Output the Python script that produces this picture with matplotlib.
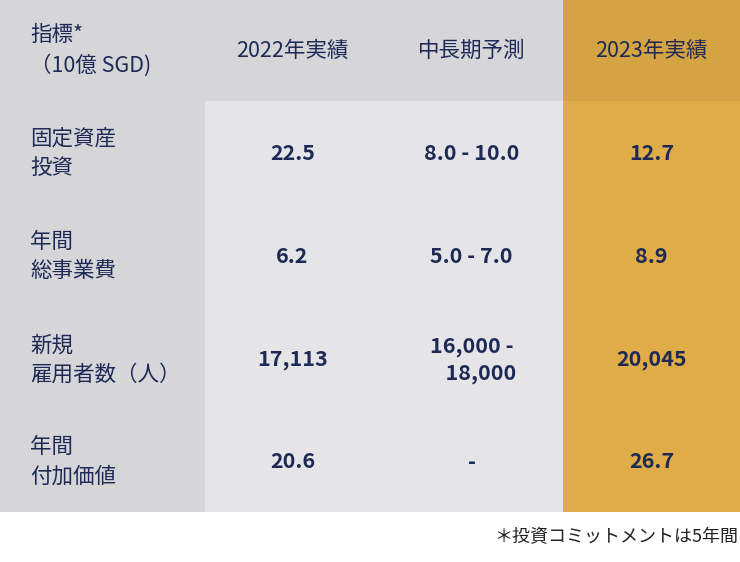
import matplotlib
matplotlib.use("Agg")
import matplotlib.pyplot as plt
from matplotlib.patches import Rectangle

headers = ["指標*\n（10億 SGD)", "2022年実績", "中長期予測", "2023年実績"]
row_labels = ["固定資産\n投資", "年間\n総事業費", "新規\n雇用者数（人）", "年間\n付加価値"]
values_2022 = ["22.5", "6.2", "17,113", "20.6"]
values_mid = ["8.0 - 10.0", "5.0 - 7.0", "16,000 -\n    18,000", "-"]
values_2023 = ["12.7", "8.9", "20,045", "26.7"]
footnote = "＊投資コミットメントは5年間"

W, H = 740, 562
col_edges = [0, 205, 380, 563, 740]
row_edges = [0, 101, 205, 308, 412, 512]
navy = "#1e2a55"
font = "Noto Sans CJK JP"

fig = plt.figure(figsize=(W/100, H/100), dpi=100)
ax = fig.add_axes([0, 0, 1, 1])
ax.set_xlim(0, W); ax.set_ylim(H, 0); ax.axis("off")

def bg(c, r):
    if c == 3:
        return "#d4a444" if r == 0 else "#e0ac48"
    if c == 0:
        return "#d6d6d9"
    return "#d6d6d9" if r == 0 else "#e5e5e8"

for r in range(5):
    for c in range(4):
        x0, x1 = col_edges[c], col_edges[c+1]
        y0, y1 = row_edges[r], row_edges[r+1]
        ax.add_patch(Rectangle((x0, y0), x1-x0, y1-y0, color=bg(c, r), lw=0))

for c, h in enumerate(headers):
    yc = (row_edges[0] + row_edges[1]) / 2
    if c == 0:
        ax.text(30, yc, h, ha="left", va="center", fontsize=15.5, color=navy,
                family=font, linespacing=1.45)
    else:
        xc = (col_edges[c] + col_edges[c+1]) / 2
        ax.text(xc, yc, h, ha="center", va="center", fontsize=15.5, color=navy, family=font)

for r in range(4):
    yc = (row_edges[r+1] + row_edges[r+2]) / 2
    ax.text(30, yc, row_labels[r], ha="left", va="center", fontsize=15.5, color=navy,
            family=font, linespacing=1.45)
    for c, vals in zip([1, 2, 3], [values_2022, values_mid, values_2023]):
        xc = (col_edges[c] + col_edges[c+1]) / 2
        ax.text(xc, yc, vals[r], ha="center", va="center", fontsize=15.5, color=navy,
                family=font, fontweight="bold", linespacing=1.35)

ax.text(738, 537, footnote, ha="right", va="center", fontsize=13, color="#222222", family=font)
fig.savefig("out.png", dpi=100, facecolor="white")
